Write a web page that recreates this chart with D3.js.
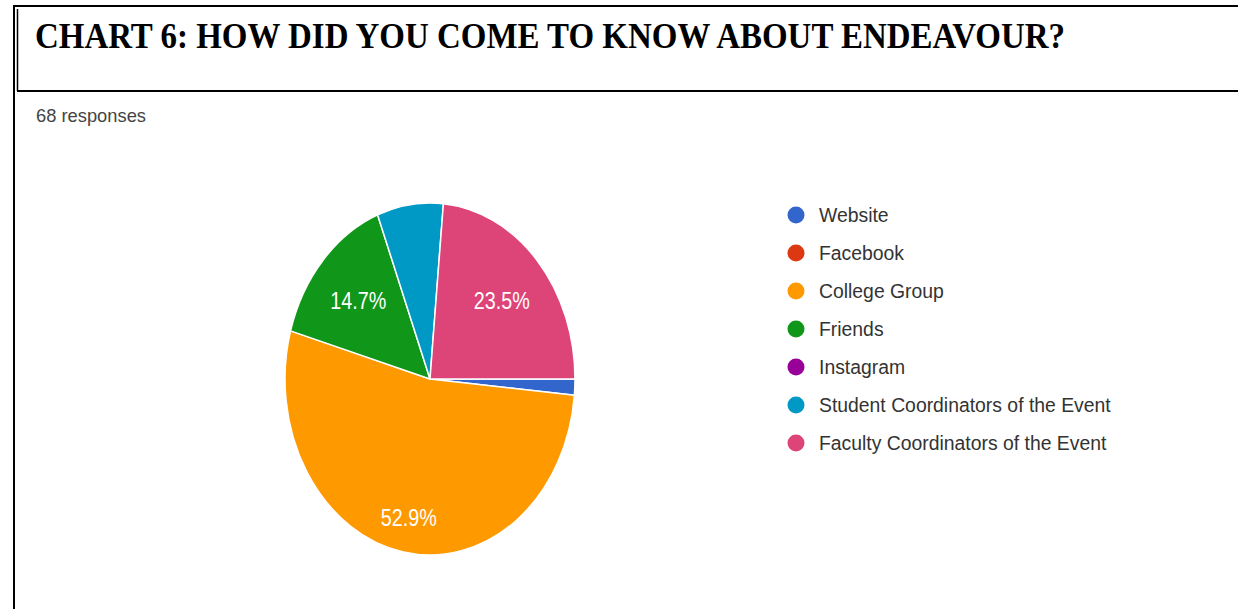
<!DOCTYPE html>
<html>
<head>
<meta charset="utf-8">
<style>
  body { margin: 0; background: #fff; }
  .frame { stroke: #000; fill: none; }
  .legend text { font-family: "Liberation Sans", Arial, sans-serif; font-size: 21px; fill: #333; }
  .lbl { font-family: "Liberation Sans", Arial, sans-serif; font-size: 24px; fill: #fff; }
</style>
</head>
<body>
<svg width="1238" height="609"></svg>
<script src="https://d3js.org/d3.v7.min.js"></script>
<script>
// answers in the form, in legend order
const categories = ["Website", "Facebook", "College Group", "Friends", "Instagram",
                    "Student Coordinators of the Event", "Faculty Coordinators of the Event"]
const counts = [1, 0, 36, 10, 0, 5, 16]
const colors = ["#3366cc", "#dc3912", "#ff9900", "#109618", "#990099", "#0099c6", "#dd4477"]
const title = "CHART 6: HOW DID YOU COME TO KNOW ABOUT ENDEAVOUR?"
const responses = "68 responses"

const W = 1238, H = 609
const svg = d3.select('svg')

// page frame (double line on the left of the title box)
svg.append('line').attr('class', 'frame').attr('stroke-width', 2)
  .attr('x1', 13).attr('y1', 6).attr('x2', W).attr('y2', 6)
svg.append('line').attr('class', 'frame').attr('stroke-width', 2)
  .attr('x1', 14).attr('y1', 5).attr('x2', 14).attr('y2', H)
svg.append('line').attr('class', 'frame').attr('stroke-width', 1.5)
  .attr('x1', 17.5).attr('y1', 9).attr('x2', 17.5).attr('y2', 91)
svg.append('line').attr('class', 'frame').attr('stroke-width', 2)
  .attr('x1', 17).attr('y1', 91).attr('x2', W).attr('y2', 91)

svg.append('text')
  .attr('x', 35).attr('y', 48)
  .attr('textLength', 1030).attr('lengthAdjust', 'spacingAndGlyphs')
  .style('font-family', '"Liberation Serif", "Times New Roman", serif')
  .style('font-size', '35px').style('font-weight', 'bold')
  .text(title)

svg.append('text')
  .attr('x', 36).attr('y', 122)
  .attr('textLength', 110).attr('lengthAdjust', 'spacingAndGlyphs')
  .style('font-family', '"Liberation Sans", Arial, sans-serif')
  .style('font-size', '19px').style('fill', '#444')
  .text(responses)

// pie is stretched vertically in the screenshot, so draw a unit pie and scale it
const cx = 430, cy = 379, rx = 145, ry = 176, R = 100
const data = categories.map((c, i) => ({ name: c, value: counts[i], color: colors[i] }))
const total = d3.sum(counts)

const pie = d3.pie().sort(null).value(d => d.value)
  .startAngle(Math.PI / 2).endAngle(Math.PI / 2 + 2 * Math.PI)
const arcs = pie(data)
const arc = d3.arc().innerRadius(0).outerRadius(R)

svg.append('g')
  .attr('transform', `translate(${cx},${cy}) scale(${rx / R},${ry / R})`)
  .selectAll('path')
  .data(arcs.filter(d => d.data.value > 0))
  .enter().append('path')
  .attr('d', arc)
  .attr('fill', d => d.data.color)
  .attr('stroke', '#fff')
  .attr('stroke-width', 1.5)
  .attr('vector-effect', 'non-scaling-stroke')

const sx = rx / ry
svg.append('g')
  .selectAll('text')
  .data(arcs.filter(d => d.data.value / total >= 0.1))
  .enter().append('text')
  .attr('class', 'lbl')
  .attr('text-anchor', 'middle')
  .attr('transform', d => {
    const a = (d.startAngle + d.endAngle) / 2
    const f = d.data.value / total > 0.5 ? 0.8 : 0.67
    const x = cx + Math.sin(a) * f * rx
    const y = cy - Math.cos(a) * f * ry
    return `translate(${x},${y + 9}) scale(${sx},1)`
  })
  .text(d => (d.data.value / total * 100).toFixed(1) + '%')

// legend
const legend = svg.append('g').attr('class', 'legend')
const row = legend.selectAll('g')
  .data(data)
  .enter().append('g')
  .attr('transform', (d, i) => `translate(796,${215 + i * 38})`)
row.append('circle').attr('r', 8.5).attr('fill', d => d.color)
const labels = row.append('text')
  .text(d => d.name)
let longest = 0
labels.each(function () { longest = Math.max(longest, this.getComputedTextLength()) })
const lsx = 292 / longest
labels.attr('transform', `translate(23,7) scale(${lsx},1)`)
</script>
</body>
</html>
